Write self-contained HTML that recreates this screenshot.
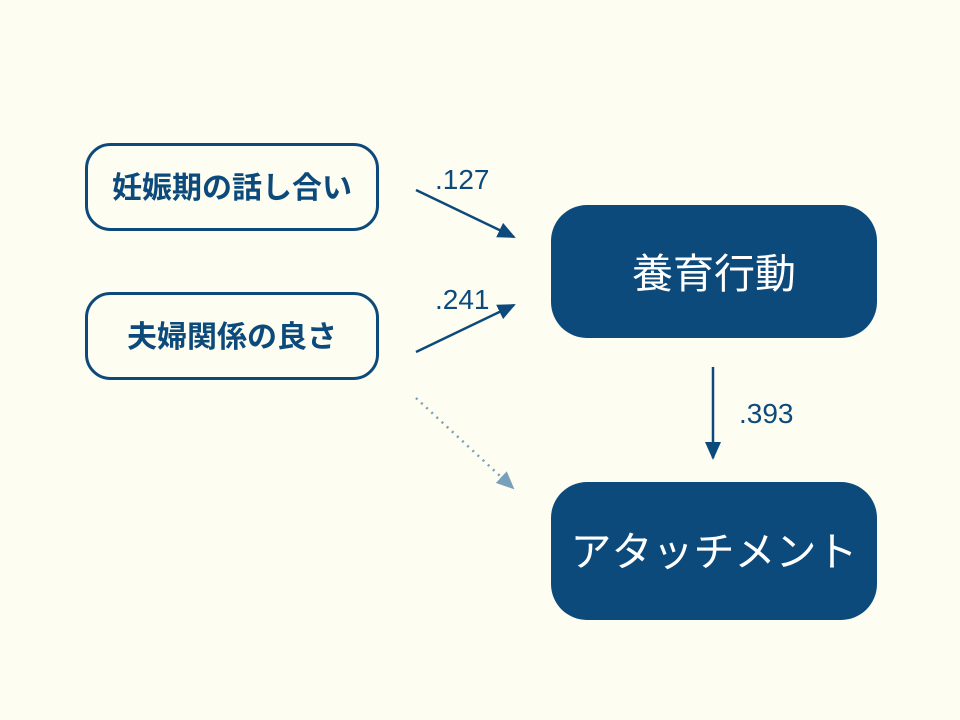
<!DOCTYPE html>
<html><head><meta charset="utf-8"><style>
html,body{margin:0;padding:0;background:#fdfdf1;}
svg{display:block;}
text{font-family:"Liberation Sans","Noto Sans CJK JP",sans-serif;}
</style></head><body>
<svg width="960" height="720" viewBox="0 0 960 720">
<rect width="960" height="720" fill="#fdfdf1"/>
<defs>
<marker id="b" markerWidth="18" markerHeight="16" refX="16" refY="8" orient="auto" markerUnits="userSpaceOnUse" viewBox="0 0 18 16"><path d="M0,0 L18,8 L0,16z" fill="#0d4a7c"/></marker>
<marker id="c" markerWidth="18" markerHeight="16" refX="16" refY="8" orient="auto" markerUnits="userSpaceOnUse" viewBox="0 0 18 16"><path d="M0,0 L18,8 L0,16z" fill="#7a9fb8"/></marker>
</defs>
<rect x="86.5" y="144.5" width="291" height="85" rx="24" fill="#fdfdf1" stroke="#0d4a7c" stroke-width="3"/>
<rect x="86.5" y="293.5" width="291" height="85" rx="24" fill="#fdfdf1" stroke="#0d4a7c" stroke-width="3"/>
<text x="232" y="198" font-size="30" font-weight="bold" fill="#0d4a7c" text-anchor="middle">妊娠期の話し合い</text>
<text x="232" y="347" font-size="30" font-weight="bold" fill="#0d4a7c" text-anchor="middle">夫婦関係の良さ</text>
<rect x="551" y="205" width="326" height="133" rx="36" fill="#0d4a7c"/>
<rect x="551" y="482" width="326" height="138" rx="36" fill="#0d4a7c"/>
<text x="714" y="288" font-size="41" fill="#ffffff" text-anchor="middle">養育行動</text>
<text x="714" y="566" font-size="41" fill="#ffffff" text-anchor="middle">アタッチメント</text>
<line x1="416" y1="190" x2="514" y2="237" stroke="#0d4a7c" stroke-width="2.5" marker-end="url(#b)"/>
<line x1="416" y1="352" x2="514" y2="305" stroke="#0d4a7c" stroke-width="2.5" marker-end="url(#b)"/>
<line x1="416" y1="398" x2="513" y2="488" stroke="#7a9fb8" stroke-width="2.5" stroke-dasharray="2,5" marker-end="url(#c)"/>
<line x1="713" y1="367" x2="713" y2="458" stroke="#0d4a7c" stroke-width="2.5" marker-end="url(#b)"/>
<text x="435" y="189" font-size="28" fill="#0d4a7c">.127</text>
<text x="435" y="309" font-size="28" fill="#0d4a7c">.241</text>
<text x="739" y="423" font-size="28" fill="#0d4a7c">.393</text>
</svg>
</body></html>
